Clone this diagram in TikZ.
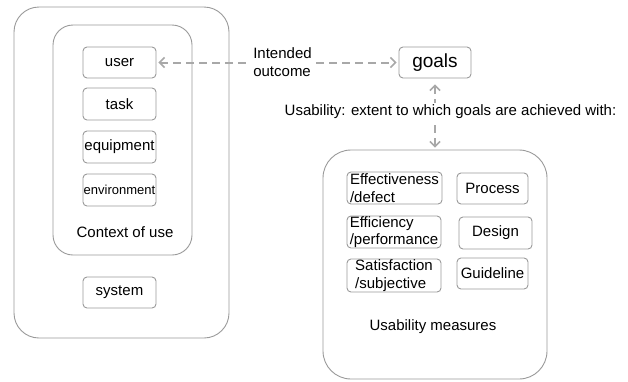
\documentclass[tikz,border=0pt]{standalone}
\usepackage{fontspec}
\setmainfont{Liberation Sans}
\usetikzlibrary{arrows.meta}
\definecolor{bord}{HTML}{9A9A9A}
\definecolor{arr}{HTML}{A8A8A8}
\begin{document}
\begin{tikzpicture}[x=1pt,y=-1pt,
  txt/.style={font=\fontsize{15}{17.5}\selectfont, inner sep=0pt},
  smallbox/.style={draw=bord, line width=0.9pt, rounded corners=4pt, fill=white, inner sep=0pt, font=\fontsize{15}{17.5}\selectfont, align=left},
  bigbox/.style={draw=bord, line width=0.9pt, fill=white, inner sep=0pt},
  dasharrow/.style={draw=arr, line width=2pt, dash pattern=on 8pt off 5pt, {Straight Barb[length=5pt,width=10pt,line width=1.6pt]}-{Straight Barb[length=5pt,width=10pt,line width=1.6pt]}}
]
\useasboundingbox (0,0) rectangle (628,381);
% left side
\node[bigbox, rounded corners=25pt, minimum width=215pt, minimum height=331pt] (outer) at (121.5,172.5) {};
\node[bigbox, rounded corners=20pt, minimum width=139pt, minimum height=230pt] (ctx) at (122.5,140) {};
\node[smallbox, minimum width=73pt, minimum height=31pt] (user) at (119.5,62.5) {user};
\node[smallbox, minimum width=73pt, minimum height=32pt] (task) at (119.5,104) {task};
\node[smallbox, minimum width=73pt, minimum height=32pt] (equip) at (119.5,147) {equipment};
\node[smallbox, minimum width=73pt, minimum height=32pt, font=\fontsize{13}{15}\selectfont] (env) at (119.5,190) {environment};
\node[txt] (ctxlabel) at (125,232) {Context of use};
\node[smallbox, minimum width=73pt, minimum height=31pt] (sys) at (119.5,292.5) {system};
% goals
\node[smallbox, minimum width=72pt, minimum height=31pt, font=\fontsize{19}{22}\selectfont] (goals) at (435,62.5) {goals};
% measures
\node[bigbox, rounded corners=28pt, minimum width=224pt, minimum height=229pt] (meas) at (435,264.5) {};
\node[smallbox, minimum width=95pt, minimum height=32pt] (eff) at (394.5,188) {Effectiveness\\/defect};
\node[smallbox, minimum width=71pt, minimum height=31pt] (proc) at (492.5,188.5) {Process};
\node[smallbox, minimum width=94pt, minimum height=32pt] (effi) at (394,232) {Efficiency\\/performance};
\node[smallbox, minimum width=73pt, minimum height=32pt] (design) at (495.5,233) {Design};
\node[smallbox, minimum width=94pt, minimum height=33pt] (sat) at (394,275.5) {Satisfaction\\/subjective};
\node[smallbox, minimum width=71pt, minimum height=31pt] (guide) at (492.5,273.5) {Guideline};
\node[txt] (measlabel) at (433,327) {Usability measures};
% connectors
\draw[dasharrow, shorten <=2pt, shorten >=2pt] (user.east) -- (goals.west);
\node[txt, fill=white, align=left, inner sep=2pt] (io) at (282.5,62) {Intended\\outcome};
\draw[dasharrow, shorten <=6pt, shorten >=2pt] (goals.south) -- (meas.north);
\node[txt, fill=white, inner sep=2pt] (us) at (450.5,112) {Usability: extent to which goals are achieved with:};
\end{tikzpicture}
\end{document}
